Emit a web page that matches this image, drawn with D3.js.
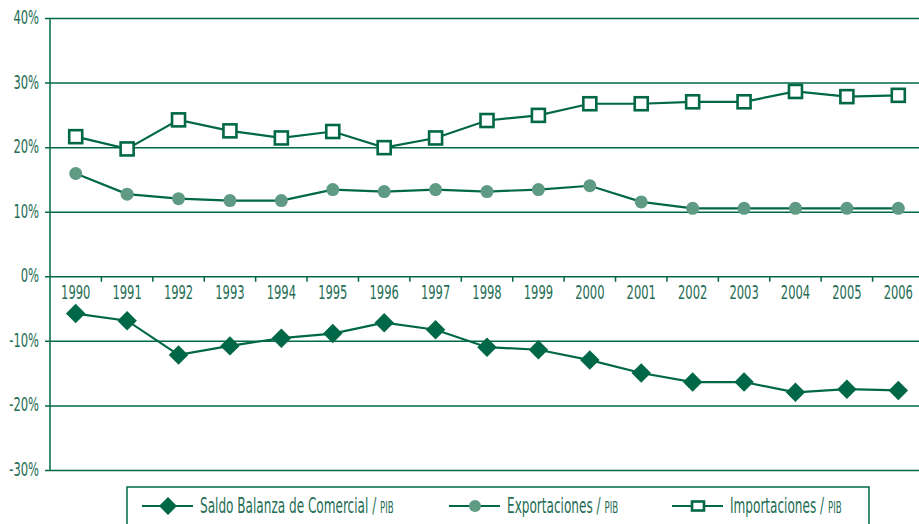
<!DOCTYPE html>
<html><head><meta charset="utf-8">
<script src="https://cdn.jsdelivr.net/npm/d3@7"></script>
<style>
html,body{margin:0;padding:0;background:#fff;}
text{font-family:"DejaVu Sans Condensed","DejaVu Sans",sans-serif;fill:#1f6e55;}
</style></head>
<body><svg id="c" width="919" height="524"></svg>
<script>
const years = ["1990","1991","1992","1993","1994","1995","1996","1997","1998","1999","2000","2001","2002","2003","2004","2005","2006"];
const saldo = [-5.7,-6.8,-12.1,-10.7,-9.5,-8.8,-7.1,-8.2,-10.9,-11.3,-12.9,-14.9,-16.3,-16.3,-17.9,-17.4,-17.6];
const exportaciones = [16.0,12.8,12.1,11.8,11.8,13.5,13.2,13.5,13.2,13.5,14.1,11.6,10.6,10.6,10.6,10.6,10.6];
const importaciones = [21.7,19.8,24.3,22.6,21.5,22.5,20.0,21.5,24.2,25.0,26.8,26.8,27.1,27.1,28.7,27.9,28.1];
const yTicks = [40,30,20,10,0,-10,-20,-30];
const seriesNames = ["Saldo Balanza de Comercial / ","Exportaciones / ","Importaciones / "];

const dark = "#006847", light = "#5f9b84";
const SX = 0.64; // horizontal condensing of label text
const svg = d3.select("#c");
const x = d3.scaleBand().domain(years).range([50, 924]);
const y = d3.scaleLinear().domain([-30, 40]).range([470.5, 18.5]);

function label(g, px, py, str, anchor, size) {
  return g.append("text").attr("transform", `translate(${px},${py}) scale(${SX},1)`)
    .attr("text-anchor", anchor).attr("font-size", size).text(str);
}

// gridlines
svg.append("g").selectAll("line").data(yTicks).join("line")
  .attr("x1", 45).attr("x2", 919).attr("y1", d => y(d)).attr("y2", d => y(d))
  .attr("stroke", dark).attr("stroke-width", 1.5);
// y labels
const gy = svg.append("g");
yTicks.forEach(d => label(gy, 39, y(d) + 5.5, d + "%", "end", 20));
// y axis line
svg.append("line").attr("x1", 50).attr("x2", 50).attr("y1", y(40)).attr("y2", y(-30))
  .attr("stroke", dark).attr("stroke-width", 1.5);
// x ticks at band boundaries on 0 line
svg.append("g").selectAll("line").data(years.slice(1)).join("line")
  .attr("x1", d => x(d)).attr("x2", d => x(d)).attr("y1", y(0)).attr("y2", y(0) + 5)
  .attr("stroke", dark).attr("stroke-width", 1.5);
// x labels
const gx = svg.append("g");
years.forEach(d => label(gx, x(d) + x.bandwidth() / 2, y(0) + 22.5, d, "middle", 20));

const cx = (d, i) => x(years[i]) + x.bandwidth() / 2;
const line = d3.line().x((d, i) => cx(d, i)).y(d => y(d));

function drawSeries(vals, kind) {
  svg.append("path").datum(vals).attr("d", line).attr("fill", "none")
    .attr("stroke", dark).attr("stroke-width", 2.2);
  const g = svg.append("g");
  vals.forEach((v, i) => drawMarker(g, kind, cx(v, i), y(v), 1));
}
function drawMarker(g, kind, px, py, s) {
  if (kind === "diamond") {
    g.append("path").attr("d", d3.symbol(d3.symbolSquare, 190 * s * s)())
      .attr("transform", `translate(${px},${py}) rotate(45)`).attr("fill", dark);
  } else if (kind === "circle") {
    g.append("circle").attr("cx", px).attr("cy", py).attr("r", 6.5 * s).attr("fill", light);
  } else {
    const w = 13 * s, h = (s < 1 ? 9 : 13);
    g.append("rect").attr("x", px - w / 2).attr("y", py - h / 2).attr("width", w).attr("height", h)
      .attr("fill", "#fff").attr("stroke", dark).attr("stroke-width", 2.6);
  }
}
drawSeries(exportaciones, "circle");
drawSeries(importaciones, "square");
drawSeries(saldo, "diamond");

// legend
svg.append("rect").attr("x", 127).attr("y", 487).attr("width", 742).attr("height", 45)
  .attr("fill", "#fff").attr("stroke", dark).attr("stroke-width", 1.5);
const kinds = ["diamond","circle","square"];
const legX = [142, 449, 672];
kinds.forEach((k, i) => {
  const lg = svg.append("g");
  lg.append("line").attr("x1", legX[i]).attr("x2", legX[i] + 51).attr("y1", 506).attr("y2", 506)
    .attr("stroke", dark).attr("stroke-width", 2.2);
  drawMarker(lg, k, legX[i] + 26, 506, 0.92);
  const t = label(lg, legX[i] + 58, 512.5, "", "start", 21);
  t.append("tspan").text(seriesNames[i]);
  t.append("tspan").attr("font-size", 15).text("PIB");
});
</script></body></html>
